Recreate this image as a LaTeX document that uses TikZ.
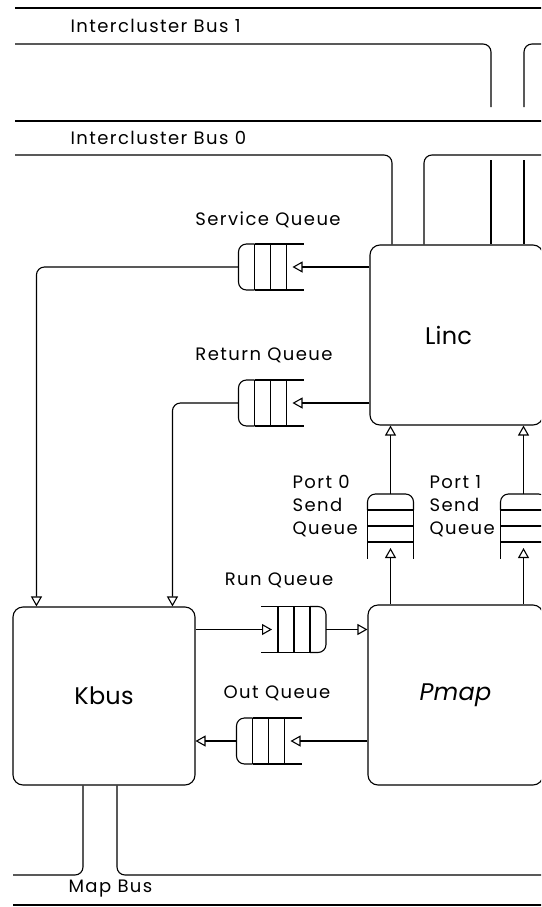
\documentclass[tikz,border=0pt]{standalone}
\usepackage{fontspec}
\setmainfont[LetterSpace=8]{Poppins}
\usetikzlibrary{arrows.meta}

\tikzset{
  >={Triangle[open,length=10pt,width=11pt]},
  unit/.style={draw, rounded corners=10pt, font=\fontsize{24}{28}\selectfont\addfontfeatures{LetterSpace=1}},
  qlabel/.style={inner sep=0pt, font=\fontsize{18}{23}\selectfont},
  buslabel/.style={anchor=west, inner sep=0pt, font=\fontsize{18}{20}\selectfont},
  queue/.pic={
    \draw[rounded corners=8pt] (-16,-23) -- (-32,-23) -- (-32,23) -- (-16,23);
    \draw (-16,-23) -- (33,-23) (-16,23) -- (33,23);
    \foreach \d in {-16,0,16}
      \draw (\d,-23) -- (\d,23);
    \coordinate (-end) at (-32,0);
    \coordinate (-tip) at (22,0);
  }
}

\begin{document}
\begin{tikzpicture}[x=1pt, y=-1pt, line width=1.1pt]

\useasboundingbox (0,0) rectangle (541,907);
\fill[white] (0,0) rectangle (541,907);
\clip (0,0) rectangle (541,907);

% ================= BUSES =================
\draw (15,8) -- (545,8);
\node[buslabel] (ib1) at (70,26) {Intercluster Bus 1};
\coordinate (b1a) at (491,44);
\coordinate (b1b) at (524,44);
\draw[rounded corners=8pt] (15,44) -- (b1a) -- (491,107);
\draw[rounded corners=8pt] (524,107) -- (b1b) -- (545,44);

\draw (15,121) -- (545,121);
\node[buslabel] (ib0) at (70,138) {Intercluster Bus 0};
\coordinate (b0a) at (392,155);
\coordinate (b0b) at (424,155);

% ================= UNITS =================
\node[unit, minimum width=173pt, minimum height=180pt] (Linc) at (456.5,335) {Linc\hspace*{16pt}};
\node[unit, minimum width=175pt, minimum height=180pt] (Pmap) at (455.5,695) {\itshape Pmap};
\node[unit, minimum width=182pt, minimum height=178pt] (Kbus) at (104,696) {Kbus};

% Linc to the intercluster buses
\draw[rounded corners=8pt] (15,155) -- (b0a) -- (b0a |- Linc.north);
\draw[rounded corners=8pt] (b0b |- Linc.north) -- (b0b) -- (545,155);
\draw (491,160) -- (491,160 |- Linc.north);
\draw (524,160) -- (524,160 |- Linc.north);

% Map bus
\coordinate (mb0) at (83,875);
\coordinate (mb1) at (117,875);
\draw[rounded corners=8pt] (13,875) -- (mb0) -- (mb0 |- Kbus.south);
\draw[rounded corners=8pt] (mb1 |- Kbus.south) -- (mb1) -- (545,875);
\draw (13,905) -- (545,905);
\node[buslabel] (mbus) at (68,889) {Map Bus};

% ================= QUEUES =================
\pic (svc) at (270.5,267) {queue};
\node[qlabel] (svclabel) at (268,220) {Service Queue};
\pic (rtn) at (270.5,403) {queue};
\node[qlabel] (rtnlabel) at (264,355) {Return Queue};
\pic[xscale=-1] (run) at (294,629.5) {queue};
\node[qlabel] (runlabel) at (279,580) {Run Queue};
\pic (out) at (268.5,741) {queue};
\node[qlabel] (outlabel) at (277,693) {Out Queue};
\pic[rotate=-90] (snd0) at (390.5,526) {queue};
\node[qlabel, anchor=west, align=left] (snd0label) at (292,506) {Port 0\\Send\\Queue};
\pic[rotate=-90] (snd1) at (523.5,526) {queue};
\node[qlabel, anchor=west, align=left] (snd1label) at (429,506) {Port 1\\Send\\Queue};

% Linc out to Kbus
\draw[->] (Linc.west |- svc-tip) -- (svc-tip);
\draw[->, rounded corners=8pt] (svc-end) -| ([xshift=24pt]Kbus.north west);
\draw[->] (Linc.west |- rtn-tip) -- (rtn-tip);
\draw[->, rounded corners=8pt] (rtn-end) -| ([xshift=160pt]Kbus.north west);

% Kbus and Pmap
\draw[->] (Kbus.east |- run-tip) -- (run-tip);
\draw[->] (run-end) -- (Pmap.west |- run-end);
\draw[->] (Pmap.west |- out-tip) -- (out-tip);
\draw[->] (out-end) -- (Kbus.east |- out-end);

% Pmap up to Linc
\foreach \q in {snd0,snd1} {
  \draw[->] (Pmap.north -| \q-tip) -- (\q-tip);
  \draw[->] (\q-end) -- (Linc.south -| \q-end);
}

\end{tikzpicture}
\end{document}
